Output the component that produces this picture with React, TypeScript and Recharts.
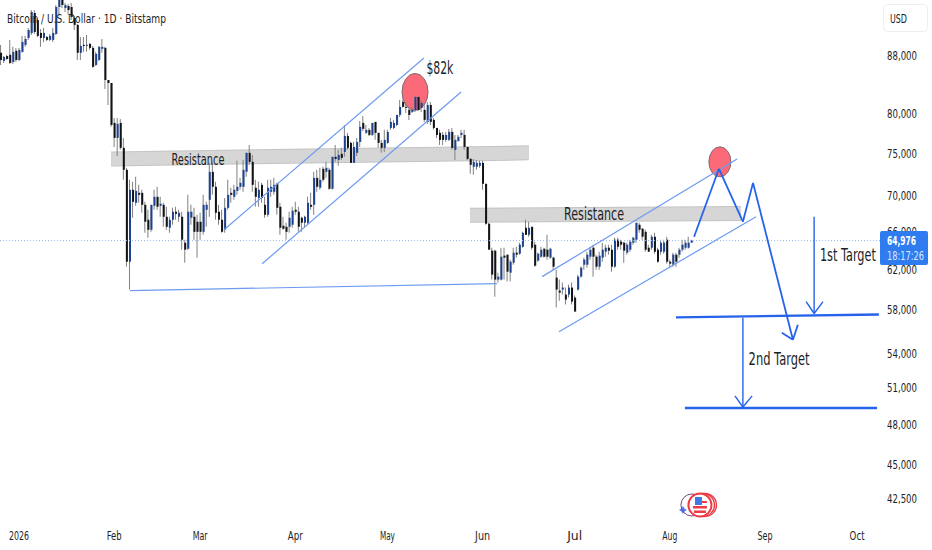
import { Bar, Cell, ComposedChart, ReferenceDot, ReferenceLine, XAxis, YAxis } from "recharts";

// BTCUSD daily, Jan - Aug 2026, first candle is 6 days before Jan 1
const firstDay = -6;

const opens = [
  88460, 87290, 88000, 88170, 87140, 88750, 87430, 88600, 89620, 90650, 91400, 94440, 93360, 91400, 90650, 90800,
  90360, 90360, 91250, 95380, 96950, 95220, 95540, 95380, 93670, 92610, 88460, 89620, 89470, 89770, 89180, 86720,
  87430, 89040, 89180, 84600, 84180, 78840, 76920, 78840, 75670, 72990, 62760, 70630, 69140, 70280, 70280, 68910,
  67240, 66140, 68800, 69820, 68800, 68910, 67570, 66360, 67240, 68130, 67570, 67570, 64750, 64110, 67460, 67570,
  67020, 67020, 65920, 68350, 69480, 72750, 70980, 68130, 67240, 66140, 68570, 70280, 69820, 70510, 70980, 70980,
  72750, 75050, 73950, 70870, 69700, 71210, 68910, 67790, 70400, 70400, 71330, 68690, 66580, 66470, 66470, 66690,
  68350, 68130, 67460, 66910, 66910, 68910, 68910, 72030, 70870, 73110, 72750, 72990, 70750, 74560, 74190, 74930,
  75170, 77170, 76290, 73830, 75050, 76420, 78840, 77560, 77940, 77300, 78970, 77560, 76290, 75670, 76290, 78190,
  78190, 78580, 79880, 81600, 80940, 80540, 80270, 80540, 82270, 80810, 80540, 78970, 81200, 79230, 78190, 77560,
  77300, 76670, 76670, 77680, 75420, 76540, 77300, 77300, 75790, 74310, 73350, 73350, 73470, 73830, 71330, 66800,
  63910, 63910, 60940, 60940, 63390, 63490, 61640, 62660, 63700, 63590, 64320, 66360, 65600, 66470, 64540, 62870,
  63280, 64110, 64010, 63180, 63180, 61140, 59850, 59950, 59460, 59460, 60150, 59170, 59950, 61240, 62450, 62450,
  63280, 64220, 63280, 62250, 63180, 63800, 64220, 64010, 62250, 65070, 64860, 64750, 63700, 64010, 64750, 65070,
  66690, 66250, 65920, 64220, 64220, 65390, 64010, 63800, 63800, 65070, 62760, 62450, 63490, 63490, 64010, 64220,
  64220, 64750,
];
const highs = [
  89620, 88000, 88170, 90360, 89330, 89180, 89180, 90950, 90950, 92150, 94900, 94900, 93670, 92000, 92150, 90950,
  91250, 92150, 95690, 97250, 97400, 96010, 95850, 96010, 93980, 92760, 90800, 90800, 91100, 89910, 89470, 88600,
  89470, 90500, 89330, 84600, 84180, 79490, 79490, 79360, 76920, 73230, 71800, 71560, 72150, 71210, 70630, 69250,
  68350, 68910, 70630, 70980, 69820, 69140, 68690, 67570, 68570, 68690, 68350, 68130, 65070, 70050, 68910, 68570,
  67790, 68010, 70050, 69250, 73830, 73830, 71560, 68910, 68350, 69700, 71800, 70870, 71210, 74070, 72030, 74190,
  75050, 76040, 74800, 71800, 71560, 71440, 69820, 71800, 71800, 72030, 71440, 69140, 67570, 66910, 68130, 68690,
  69250, 68690, 67570, 67680, 69820, 70280, 72750, 72990, 73230, 73350, 73950, 73230, 74560, 76040, 75420, 75670,
  78580, 77550, 76420, 76420, 76920, 79100, 79750, 78580, 78190, 78840, 78970, 77560, 76670, 77940, 77940, 79490,
  79230, 79880, 81870, 81870, 81470, 80810, 80940, 82400, 82400, 81870, 81470, 81600, 81600, 79490, 78190, 77940,
  77680, 77680, 78060, 78190, 77300, 77300, 77940, 77940, 75790, 74430, 74310, 74190, 74070, 74070, 71330, 66910,
  64220, 64010, 61640, 64220, 64220, 63490, 62970, 64220, 64320, 64750, 65920, 67240, 67020, 66470, 64860, 63700,
  64320, 64220, 65600, 64220, 63280, 61940, 60940, 60640, 60150, 60440, 60640, 59360, 61440, 62250, 63180, 63800,
  64320, 64540, 63490, 63800, 64750, 64540, 64540, 64540, 65280, 65280, 65070, 64860, 64750, 65070, 65390, 66910,
  66910, 66360, 66140, 64540, 65600, 65810, 64220, 65070, 65070, 65390, 62970, 63700, 63700, 64220, 65070, 65070,
  65390, 65070,
];
const lows = [
  86720, 87000, 87430, 86860, 86860, 87140, 87290, 88460, 89330, 90360, 91100, 91250, 90800, 89330, 90060, 90210,
  90210, 90060, 91100, 94130, 95220, 94590, 94130, 93360, 91850, 87430, 87430, 88600, 88600, 88890, 86300, 86580,
  87290, 88460, 83350, 81200, 78330, 75790, 74680, 75420, 71800, 62240, 59950, 67460, 68800, 69140, 68010, 65810,
  65280, 65920, 68350, 68350, 67570, 66470, 66140, 65810, 66690, 67240, 67020, 64010, 62660, 64010, 66690, 65070,
  63180, 65070, 65600, 66470, 67570, 70050, 67240, 66690, 65810, 65810, 68350, 69140, 69480, 70050, 70630, 70400,
  72150, 73590, 70400, 68690, 68690, 69140, 67460, 67570, 69820, 70050, 67790, 65600, 66140, 65070, 65810, 66360,
  67790, 65920, 65920, 66360, 66690, 68350, 67790, 70400, 70630, 71560, 72030, 70630, 70630, 73950, 73470, 74190,
  74560, 75420, 73830, 73830, 74680, 75790, 77810, 77430, 77170, 77170, 76670, 75670, 75050, 75170, 76170, 77940,
  78060, 78450, 79620, 80810, 80140, 79230, 80140, 80270, 80400, 80270, 78970, 78710, 78580, 77940, 76920, 76040,
  76040, 76420, 76540, 75420, 74190, 76420, 76920, 75420, 74190, 72510, 72390, 72990, 73230, 70630, 66690, 64010,
  60940, 59260, 60640, 60840, 60940, 60740, 60740, 62450, 63180, 63490, 64220, 65600, 65390, 64010, 62250, 62760,
  63180, 63180, 62970, 63070, 61940, 58200, 58870, 59460, 58490, 59170, 58490, 57820, 59850, 61140, 61940, 62150,
  62970, 61240, 61940, 61940, 62760, 63280, 63490, 61740, 62150, 64010, 64010, 62660, 63490, 63800, 64540, 64750,
  65810, 65070, 63800, 63800, 64010, 63590, 62660, 63490, 63590, 62560, 62150, 62250, 62250, 63180, 63800, 64010,
  64110, 64750,
];
const closes = [
  87430, 87860, 87570, 87000, 88600, 87430, 88890, 90060, 90500, 91850, 94590, 91550, 90950, 90650, 91400, 90360,
  90950, 91400, 95380, 96800, 95690, 95690, 94900, 93830, 92610, 88460, 89470, 89470, 89620, 89180, 86440, 88310,
  89330, 89330, 84600, 84180, 78580, 76920, 78710, 75670, 72990, 62760, 70630, 69250, 70510, 70050, 68910, 67020,
  66140, 68910, 69820, 68690, 69030, 67570, 66470, 67240, 68130, 67900, 68010, 65070, 64010, 68130, 68130, 65920,
  65920, 65920, 68910, 68910, 72750, 70980, 68010, 67240, 65920, 68570, 70050, 70050, 70630, 70980, 71440, 72990,
  75050, 73950, 71210, 69820, 70630, 69700, 67790, 70870, 70980, 71210, 68570, 66360, 66250, 65920, 67460, 68240,
  68130, 66470, 66910, 67570, 69140, 68690, 72030, 70980, 71800, 71800, 73230, 70750, 74560, 74310, 74800, 74430,
  77170, 75670, 73830, 75790, 76420, 78330, 78070, 77940, 77300, 78840, 77560, 76290, 75670, 76670, 77680, 78970,
  78840, 79880, 80940, 80940, 80810, 79880, 80540, 82270, 80540, 81470, 79230, 81200, 78970, 78190, 77300, 76670,
  76670, 77300, 77680, 75670, 76670, 77050, 77560, 75790, 74310, 73590, 73950, 73830, 73830, 71330, 66800, 64010,
  61440, 60940, 61240, 63280, 63180, 61740, 62760, 63700, 63490, 64540, 65810, 65600, 66360, 64220, 62350, 63590,
  64010, 63280, 63280, 64110, 62250, 59950, 59650, 60150, 58970, 60150, 58780, 57820, 61240, 62150, 62970, 63490,
  64010, 63280, 62250, 63390, 64010, 64220, 63910, 62250, 65070, 64320, 64540, 63910, 64540, 64860, 65280, 66910,
  66140, 65390, 64010, 63800, 65390, 63800, 62760, 64750, 64750, 62760, 62560, 63490, 62760, 64010, 64540, 64750,
  64750, 64976,
];

const priceTicks = [88000, 80000, 75000, 70000, 66000, 62000, 58000, 54000, 51000, 48000, 45000, 42500];
const monthDays = [0, 31, 59, 90, 120, 151, 181, 212, 243, 273];
const monthNames = ["2026", "Feb", "Mar", "Apr", "May", "Jun", "Jul", "Aug", "Sep", "Oct"];
const lastPrice = 64976;

// [day, price, day, price] for the drawn trend lines
const thinLines = [
  [66.8, 66140, 131.9, 87720],
  [79.2, 62550, 144, 82950],
  [170.4, 61240, 233.9, 74310],
  [175.9, 55940, 240.1, 67570],
  [36.2, 59850, 155.7, 60540],
];
const bands = [
  [30, 74310, 166.1, 75050],
  [146.9, 67730, 235.2, 67930],
];
const projection = [
  [219.9, 65390, 228, 73110],
  [228, 73110, 235.8, 67020],
  [235.8, 67020, 239.1, 71440],
  [239.1, 71440, 252.1, 55210],
  [248.5, 55850, 252.1, 55210],
  [253.7, 56570, 252.1, 55210],
];
const targetLines = [
  [214, 57270, 280.1, 57550],
  [216.9, 49350, 279.5, 49350],
];
const targetArrows = [
  [259, 67570, 259, 57640],
  [256.4, 58780, 259, 57640],
  [261.9, 58780, 259, 57640],
  [235.8, 57240, 235.8, 49430],
  [233.2, 50340, 235.8, 49430],
  [238.8, 50340, 235.8, 49430],
];
const notes = [
  { text: "$82k", day: 137.1, price: 86300, size: 17, len: 27 },
  { text: "Resistance", day: 58.3, price: 74190, size: 15, len: 53 },
  { text: "Resistance", day: 187.3, price: 67900, size: 17, len: 60 },
  { text: "1st Target", day: 270, price: 63490, size: 17, len: 56 },
  { text: "2nd Target", day: 247.6, price: 53490, size: 17, len: 61 },
];

const candles = opens.map((open, i) => ({
  day: firstDay + i,
  wick: [lows[i], highs[i]],
  body: [Math.min(open, closes[i]), Math.max(open, closes[i])],
  up: closes[i] >= open,
}));

const FONT = "'DejaVu Sans', sans-serif";
const INK = "#1b1e26";
const BLUE = "#2563eb";
const THIN = "#6d9bf1";
const xDomain = [-6.19, 280.46];
const yDomain = [41190, 96480];

const seg = (s: number[]) => [
  { x: s[0], y: s[1] },
  { x: s[2], y: s[3] },
];

// the reference uses a squeezed face, textLength gets the same widths
const Squeezed = ({ x, y, len, size = 13, fill = INK, weight = 400, children }: any) => (
  <text x={x} y={y} fontSize={size} fontFamily={FONT} fontWeight={weight} fill={fill} textLength={len} lengthAdjust="spacingAndGlyphs" dominantBaseline="central">
    {children}
  </text>
);

const PriceTick = ({ y, payload }: any) => (
  <Squeezed x={887} y={y} len={30}>
    {payload.value.toLocaleString("en-US")}
  </Squeezed>
);

const MonthTick = ({ x, payload }: any) => {
  const label = monthNames[monthDays.indexOf(payload.value)];
  const len = label.length * 5;
  return (
    <Squeezed x={x - len / 2} y={535} len={len}>
      {label}
    </Squeezed>
  );
};

const Ellipse = ({ cx, cy, rx, ry }: any) => (
  <ellipse cx={cx} cy={cy} rx={rx} ry={ry} fill="#fa6a79" stroke="#7d6a70" strokeWidth={1} />
);

const Logo = ({ cx, cy }: any) => (
  <g>
    <path d={`M${cx - 9} ${cy + 1} l1.5 2.5 2.5 1.5 -2.5 1.5 -1.5 2.5 -1.5 -2.5 -2.5 -1.5 2.5 -1.5z`} fill="#4f7df5" />
    <circle cx={cx} cy={cy} r={11} fill="none" stroke="#7b3f7f" strokeWidth={1} />
    <circle cx={cx + 13} cy={cy} r={11.5} fill="#fff" stroke="#ee3a45" strokeWidth={1.4} />
    <circle cx={cx + 11} cy={cy} r={11.5} fill="#fff" stroke="#ee3a45" strokeWidth={1.4} />
    <circle cx={cx + 8} cy={cy} r={11.5} fill="#fff" stroke="#ee3a45" strokeWidth={2} />
    <rect x={cx + 1} y={cy + 1} width={14} height={2.5} fill="#ee3a45" />
    <rect x={cx + 2} y={cy + 5.5} width={12} height={2.5} fill="#ee3a45" />
    <rect x={cx + 3} y={cy - 8} width={7} height={8} fill="#3f78e8" />
    <rect x={cx + 10} y={cy - 4} width={5} height={2} fill="#ee3a45" />
  </g>
);

export default function App() {
  return (
    <div style={{ position: "absolute", left: 0, top: 0, width: 932, height: 550, overflow: "hidden", background: "#fff" }}>
      <ComposedChart width={932} height={550} data={candles} margin={{ top: 0, right: 0, bottom: 0, left: 0 }}>
        <XAxis
          xAxisId="wick"
          dataKey="day"
          type="number"
          domain={xDomain}
          allowDataOverflow
          ticks={monthDays}
          interval={0}
          height={32}
          tickLine={false}
          axisLine={false}
          tick={<MonthTick />}
        />
        <XAxis xAxisId="body" dataKey="day" type="number" domain={xDomain} allowDataOverflow hide height={0} />
        <YAxis
          orientation="right"
          type="number"
          scale="log"
          domain={yDomain}
          allowDataOverflow
          ticks={priceTicks}
          interval={0}
          width={52}
          tickLine={false}
          axisLine={false}
          tick={<PriceTick />}
        />

        {bands.map((b, i) => (
          <ReferenceLine key={`bo${i}`} xAxisId="body" segment={seg(b)} stroke="#c4c4c4" strokeWidth={15} zIndex={50} />
        ))}
        {bands.map((b, i) => (
          <ReferenceLine key={`bi${i}`} xAxisId="body" segment={seg(b)} stroke="#d6d6d6" strokeWidth={13} zIndex={51} />
        ))}
        <ReferenceDot xAxisId="body" x={129} y={82950} r={13} zIndex={60} shape={(p: any) => <Ellipse {...p} rx={13} ry={18.5} />} />
        <ReferenceDot xAxisId="body" x={228.3} y={73950} r={11} zIndex={60} shape={(p: any) => <Ellipse {...p} rx={11} ry={15} />} />

        <Bar xAxisId="wick" dataKey="wick" barSize={1} fill="#808080" isAnimationActive={false} />
        <Bar xAxisId="body" dataKey="body" barSize={2} minPointSize={1} isAnimationActive={false}>
          {candles.map((c) => (
            <Cell key={c.day} fill={c.up ? "#1d4390" : "#111318"} />
          ))}
        </Bar>

        <ReferenceLine xAxisId="body" y={lastPrice} stroke="#8fb8f5" strokeDasharray="1 2" zIndex={700} />
        {thinLines.map((s, i) => (
          <ReferenceLine key={`t${i}`} xAxisId="body" segment={seg(s)} stroke={THIN} strokeWidth={1.2} zIndex={700} />
        ))}
        {projection.map((s, i) => (
          <ReferenceLine key={`p${i}`} xAxisId="body" segment={seg(s)} stroke={BLUE} strokeWidth={1.8} zIndex={710} />
        ))}
        {targetLines.map((s, i) => (
          <ReferenceLine key={`l${i}`} xAxisId="body" segment={seg(s)} stroke={BLUE} strokeWidth={2.4} zIndex={710} />
        ))}
        {targetArrows.map((s, i) => (
          <ReferenceLine key={`a${i}`} xAxisId="body" segment={seg(s)} stroke={BLUE} strokeWidth={1.4} zIndex={710} />
        ))}
        {notes.map((n, i) => (
          <ReferenceDot
            key={`n${i}`}
            xAxisId="body"
            x={n.day}
            y={n.price}
            r={1}
            zIndex={720}
            shape={(p: any) => (
              <Squeezed x={p.cx - n.len / 2} y={p.cy} len={n.len} size={n.size}>
                {n.text}
              </Squeezed>
            )}
          />
        ))}
        <ReferenceDot xAxisId="body" x={219.2} y={42080} r={1} zIndex={720} shape={(p: any) => <Logo {...p} />} />
      </ComposedChart>

      <svg width={932} height={550} style={{ position: "absolute", left: 0, top: 0, pointerEvents: "none" }}>
        <Squeezed x={7} y={18} len={159}>
          Bitcoin / U.S. Dollar · 1D · Bitstamp
        </Squeezed>
        <rect x={883.5} y={4.5} width={44} height={27} rx={4} fill="#fff" stroke="#eceef2" />
        <Squeezed x={890} y={18} len={17}>
          USD
        </Squeezed>
        <rect x={880} y={231} width={48} height={34} rx={2} fill="#2f7bf0" />
        <Squeezed x={887} y={240} len={29} fill="#fff" weight={700}>
          64,976
        </Squeezed>
        <Squeezed x={887} y={255} len={37} fill="#dce9ff">
          18:17:26
        </Squeezed>
      </svg>
    </div>
  );
}
